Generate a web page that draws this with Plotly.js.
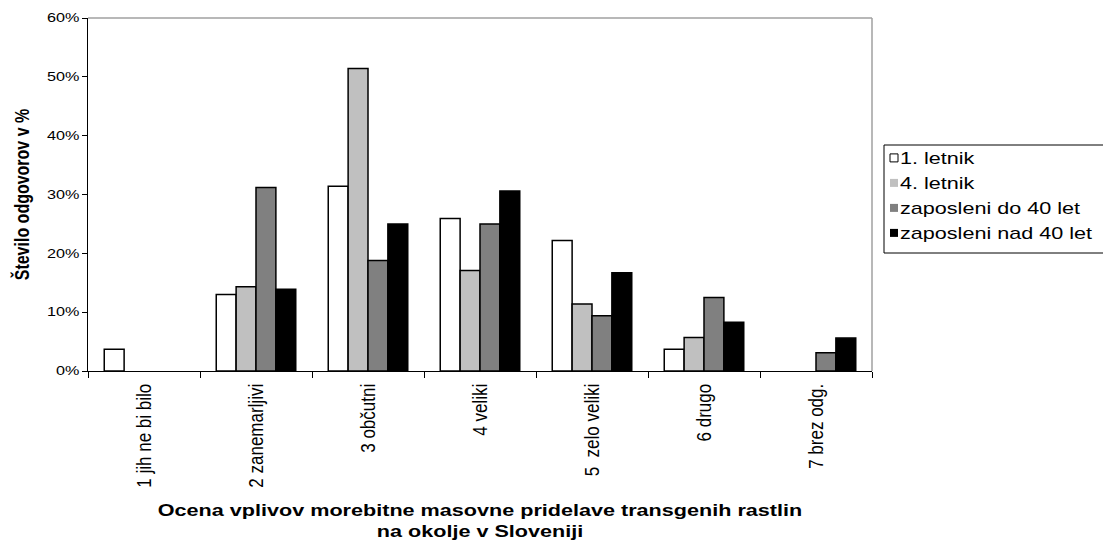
<!DOCTYPE html>
<html><head><meta charset="utf-8">
<script src="https://cdn.plot.ly/plotly-3.0.1.min.js"></script>
<style>body{margin:0;background:#fff}#c{width:1103px;height:540px}</style>
</head><body><div id="c"></div>
<script>
const categories = ["1 jih ne bi bilo","2 zanemarljivi","3 občutni","4 veliki","5  zelo veliki","6 drugo","7 brez odg."];
const seriesNames = ["1. letnik","4. letnik","zaposleni do 40 let","zaposleni nad 40 let"];
const letnik1 = [3.7, 13.0, 31.4, 25.9, 22.2, 3.7, 0];
const letnik4 = [0, 14.3, 51.4, 17.1, 11.4, 5.7, 0];
const zapDo40 = [0, 31.2, 18.8, 25.0, 9.4, 12.5, 3.1];
const zapNad40 = [0, 13.9, 25.0, 30.6, 16.7, 8.3, 5.6];
const colors = ["#ffffff","#c0c0c0","#808080","#000000"];
const vals = [letnik1, letnik4, zapDo40, zapNad40];
const font = "Liberation Sans, Arial, sans-serif";
const traces = vals.map((v,i)=>({
  type:"bar", x:categories, y:v.map(d=>d/100), name:seriesNames[i],
  marker:{color:colors[i], line:{color:"#000", width:v.map(d=>d===0?0:1.5)}},
  hoverinfo:"skip"
}));
const layout = {
  width:1103, height:540, margin:{l:88, r:231, t:18, b:169},
  paper_bgcolor:"#fff", plot_bgcolor:"#fff",
  barmode:"group", bargap:0.29, bargroupgap:0,
  font:{family:font, color:"#000"},
  xaxis:{type:"category", tickangle:-90, tickfont:{size:17}, ticks:"outside", tickson:"boundaries",
    ticklen:6, tickcolor:"#000", showline:true, linecolor:"#000", linewidth:1, showgrid:false, zeroline:false,
    ticklabelstandoff:5,
    title:{text:"<b>Ocena vplivov morebitne masovne pridelave transgenih rastlin<br>na okolje v Sloveniji</b>", font:{size:16}, standoff:22}},
  yaxis:{range:[0,0.6], dtick:0.1, tickformat:".0%", tickfont:{size:12}, ticks:"outside", ticklen:5, tickcolor:"#000",
    showline:true, linecolor:"#000", linewidth:1, showgrid:false, zeroline:false,
    title:{text:"<b>Število odgovorov v %</b>", font:{size:16}, standoff:23}},
  legend:{x:(874-88)/784, y:(371-140)/353, xanchor:"left", yanchor:"top", font:{size:16}, borderwidth:0,
    bgcolor:"rgba(0,0,0,0)", tracegroupgap:0, itemwidth:30},
  shapes:[{type:"line", xref:"paper", yref:"paper", x0:0, x1:1, y0:1, y1:1, line:{color:"#a0a0a0", width:1.5}},
          {type:"line", xref:"paper", yref:"paper", x0:1, x1:1, y0:0, y1:1, line:{color:"#a0a0a0", width:1.5}},
          {type:"rect", xref:"paper", yref:"paper", x0:(884-88)/784, x1:1.32, y0:(371-253)/353, y1:(371-145)/353,
           line:{color:"#000", width:1}, fillcolor:"rgba(0,0,0,0)"}],
  showlegend:true
};
Plotly.newPlot("c", traces, layout, {staticPlot:true}).then(gd=>{
  const S = 1.35;
  function stretch(el, anchor, dx){
    const b = el.getBBox();
    const cx = anchor==="start" ? b.x : anchor==="end" ? b.x+b.width : b.x+b.width/2;
    const t = el.getAttribute("transform") || "";
    el.setAttribute("transform", t + ` translate(${cx+(dx||0)},0) scale(${S},1) translate(${-cx},0)`);
  }
  function stretchScreen(el, s){
    const svgR = gd.querySelector(".main-svg").getBoundingClientRect();
    const r = el.getBoundingClientRect();
    const cx = r.left + r.width/2 - svgR.left;
    const t = el.getAttribute("transform") || "";
    el.setAttribute("transform", `translate(${cx},0) scale(${s},1) translate(${-cx},0) ` + t);
  }
  gd.querySelectorAll(".legend [clip-path]").forEach(e=>e.removeAttribute("clip-path"));
  gd.querySelectorAll(".legendtext").forEach(e=>stretch(e,"start",-14));
  gd.querySelectorAll(".xtitle").forEach(e=>stretch(e,"middle"));
  gd.querySelectorAll(".ytick text").forEach(e=>stretch(e,"end"));
  gd.querySelectorAll(".ytitle").forEach(e=>stretchScreen(e, 1.25));
  gd.querySelectorAll(".xtick text").forEach(e=>stretchScreen(e, 1.2));
  gd.querySelectorAll(".legend .legendpoints path").forEach(p=>{
    p.setAttribute("d","M4,4H-4V-4H4Z");
    p.style.strokeWidth = "1px";
  });
  const rows = gd.querySelectorAll(".legend .traces");
  const spacing = 25;
  let y0 = null;
  rows.forEach((g,i)=>{
    const m = /translate\(([-\d.]+)[ ,]+([-\d.]+)\)/.exec(g.getAttribute("transform")||"");
    if(!m) return;
    if(y0===null) y0 = parseFloat(m[2]) + 1;
    g.setAttribute("transform", `translate(${m[1]},${y0 + i*spacing})`);
  });
});
</script></body></html>
